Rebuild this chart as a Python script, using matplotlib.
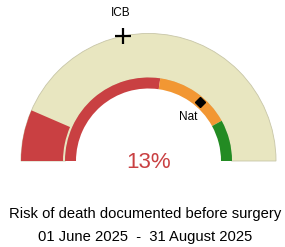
import numpy as np
import matplotlib
matplotlib.use("Agg")
from matplotlib import pyplot as plt
from matplotlib.patches import Wedge

plt.rcParams['font.family'] = ['Liberation Sans', 'DejaVu Sans']

# gauge data (percent, 0-100 scale)
value = 13
icb_value = 43.5
nat_value = 73
band_edges = [0, 54.5, 84, 100]
band_colors = ["#c94042", "#f29733", "#238b23"]
title = "Risk of death documented before surgery"
period = "01 June 2025  -  31 August 2025"

def ang(v):
    return 180 - 1.8 * v

W, H = 285, 247
fig = plt.figure(figsize=(W / 100, H / 100), dpi=100)
ax = fig.add_axes([0, 0, 1, 1])
ax.set_xlim(0, W)
ax.set_ylim(0, H)
ax.axis("off")

cx, cy = 148.5, 86
R_out, w_out = 127.5, 42
R_in, w_in = 83.5, 11

# outer band (beige background reaches the inner ring)
ax.add_patch(Wedge((cx, cy), R_out, 0, 180, width=R_out - R_in + 0.5, facecolor="#e8e6c0", edgecolor="#c8c6a8", lw=0.6))
ax.add_patch(Wedge((cx, cy), R_out, ang(value), 180, width=w_out, facecolor="#c94042", edgecolor="none"))

# inner ring bands
for i in range(len(band_colors)):
    ax.add_patch(Wedge((cx, cy), R_in, ang(band_edges[i + 1]), ang(band_edges[i]), width=w_in,
                       facecolor=band_colors[i], edgecolor="none"))

# markers
a = np.radians(ang(icb_value))
ax.plot(cx + R_out * np.cos(a), cy + R_out * np.sin(a), marker="+", color="black", ms=12, mew=1.6)
ax.text(121, H - 13, "ICB", ha="center", va="center", fontsize=8.5)

a = np.radians(ang(nat_value))
rm = R_in - w_in / 2
ax.plot(cx + rm * np.cos(a), cy + rm * np.sin(a), marker="D", color="black", ms=5)
ax.text(188, H - 117, "Nat", ha="center", va="center", fontsize=8.5)

ax.text(cx, H - 162, f"{value}%", ha="center", va="center", fontsize=16, color="#c94042")
ax.text(W / 2 + 3, H - 214, title, ha="center", va="center", fontsize=10.6)
ax.text(W / 2 + 3, H - 237, period, ha="center", va="center", fontsize=10.6)

fig.savefig("out.png", dpi=100)
